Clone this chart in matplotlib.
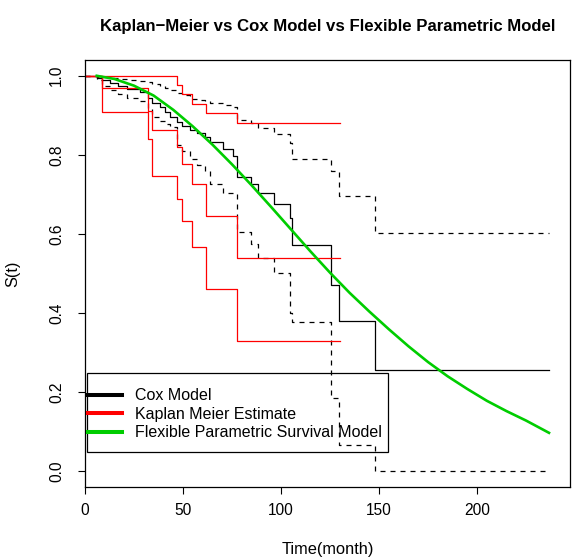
import matplotlib.pyplot as plt
from matplotlib.patches import Rectangle

plt.rcParams["font.family"] = ["Liberation Sans", "DejaVu Sans"]

# Kaplan-Meier estimate with its confidence limits
km_time = [0, 8.7, 32.1, 34.2, 46.9, 49.5, 54.6, 61.7, 77.6, 130.1]
km_surv = [1.0, 0.97, 0.91, 0.862, 0.821, 0.778, 0.727, 0.645, 0.538, 0.538]
km_upper = [1.0, 1.0, 1.0, 1.0, 0.977, 0.954, 0.929, 0.906, 0.88, 0.88]
km_lower = [1.0, 0.908, 0.84, 0.747, 0.689, 0.633, 0.566, 0.462, 0.329, 0.329]

# Cox model survival curve with its confidence limits
cox_time = [0, 6.1, 8.7, 12.8, 16.8, 21.4, 28.1, 32.1, 34.2, 38.3,
            40.8, 43.4, 46.9, 49.5, 53.6, 57.1, 61.2, 63.8, 70.4, 75.5,
            77.6, 84.7, 88.3, 96.4, 104.6, 105.6, 125.5, 129.6, 148.0, 236.7]
cox_surv = [1.0, 0.995, 0.99, 0.983, 0.975, 0.967, 0.958, 0.945, 0.932, 0.92,
            0.908, 0.897, 0.884, 0.872, 0.862, 0.855, 0.845, 0.832, 0.816, 0.798,
            0.745, 0.727, 0.704, 0.676, 0.64, 0.571, 0.472, 0.38, 0.255, 0.255]
cox_upper = [1.0, 0.998, 0.997, 0.995, 0.993, 0.99, 0.988, 0.984, 0.98, 0.975,
             0.97, 0.965, 0.957, 0.952, 0.942, 0.94, 0.935, 0.93, 0.925, 0.92,
             0.888, 0.88, 0.867, 0.854, 0.83, 0.79, 0.76, 0.696, 0.602, 0.602]
cox_lower = [1.0, 0.99, 0.975, 0.965, 0.955, 0.945, 0.935, 0.915, 0.895, 0.885,
             0.878, 0.87, 0.825, 0.81, 0.79, 0.775, 0.76, 0.727, 0.704, 0.70,
             0.606, 0.574, 0.538, 0.5, 0.40, 0.378, 0.186, 0.066, 0.0, 0.0]

# flexible parametric survival model
fpm_time = [6, 15, 25, 35, 45, 55, 65, 75, 85, 95, 105, 115, 125, 135,
            145, 155, 165, 175, 185, 195, 205, 215, 225, 236.7]
fpm_surv = [1.0, 0.992, 0.975, 0.95, 0.914, 0.872, 0.826, 0.776, 0.723, 0.668,
            0.612, 0.556, 0.502, 0.451, 0.404, 0.359, 0.316, 0.276, 0.24, 0.208,
            0.178, 0.152, 0.128, 0.097]

x_ticks = [0, 50, 100, 150, 200]
y_ticks = [0.0, 0.2, 0.4, 0.6, 0.8, 1.0]
legend_labels = ["Cox Model", "Kaplan Meier Estimate", "Flexible Parametric Survival Model"]

RED = "#FF0000"
GREEN = "#00CD00"

fig = plt.figure(figsize=(5.87, 5.59), dpi=100)
ax = fig.add_axes([0.1448, 0.1288, 0.8262, 0.7639])

lw = 0.9
ax.step(cox_time, cox_surv, where="post", color="black", lw=lw)
ax.step(cox_time, cox_upper, where="post", color="black", lw=lw, ls=(0, (4, 4)))
ax.step(cox_time, cox_lower, where="post", color="black", lw=lw, ls=(0, (4, 4)))
ax.step(km_time, km_surv, where="post", color=RED, lw=lw)
ax.step(km_time, km_upper, where="post", color=RED, lw=lw)
ax.step(km_time, km_lower, where="post", color=RED, lw=lw)
ax.plot(fpm_time, fpm_surv, color=GREEN, lw=1.9)

ax.set_xlim(0, 247.4)
ax.set_ylim(-0.04, 1.04)
ax.set_xticks(x_ticks)
ax.set_xticklabels([str(v) for v in x_ticks])
ax.set_yticks(y_ticks)
ax.set_yticklabels([f"{v:.1f}" for v in y_ticks])
ax.tick_params(axis="both", length=5, width=0.8, labelsize=11.2)
ax.tick_params(axis="x", pad=6.5)
ax.tick_params(axis="y", pad=10)
for lbl in ax.get_yticklabels():
    lbl.set_rotation(90)
    lbl.set_va("center")
for sp in ax.spines.values():
    sp.set_linewidth(0.9)

ax.set_title("Kaplan\u2212Meier vs Cox Model vs Flexible Parametric Model",
             fontsize=12.1, fontweight="bold", y=1.0773, pad=0, va="center")
ax.set_xlabel("Time(month)", fontsize=11.8, va="center")
ax.xaxis.set_label_coords(0.5, -0.1452)
ax.set_ylabel("S(t)", fontsize=11.8, va="center")
ax.yaxis.set_label_coords(-0.1485, 0.5)

# legend: transparent box drawn separately, as in the original
handles = [plt.Line2D([], [], color=c, lw=2.9) for c in ["black", RED, GREEN]]
ax.legend(handles, legend_labels, loc="upper left", bbox_to_anchor=(0.0062, 0.2316),
          frameon=False, borderpad=0, fontsize=11.5, handlelength=2.125,
          handletextpad=0.8, labelspacing=0.23, borderaxespad=0)
ax.add_patch(Rectangle((0.0041, 0.082), 0.6206, 0.185, transform=ax.transAxes,
                       fill=False, edgecolor="black", lw=0.9, clip_on=False))

fig.savefig("out.png", dpi=100)
plt.close(fig)
